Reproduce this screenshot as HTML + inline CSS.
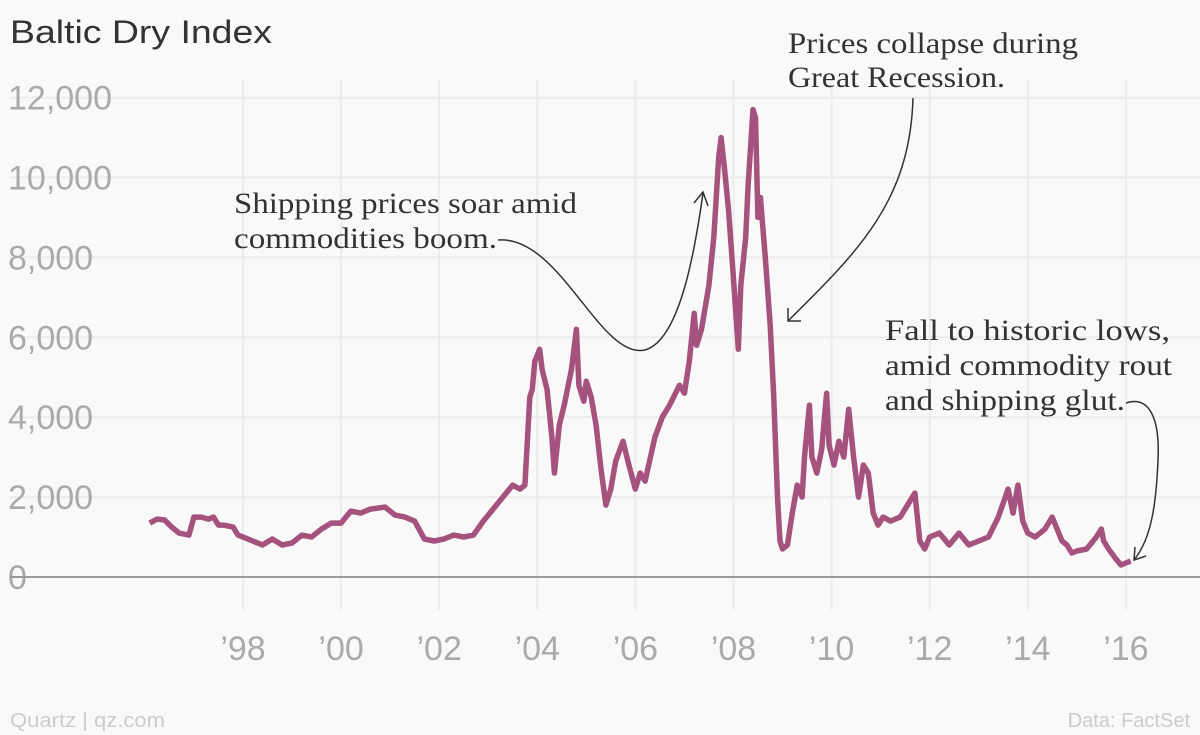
<!DOCTYPE html>
<html><head><meta charset="utf-8"><style>
html,body{margin:0;padding:0;background:#f9f9f9;}
svg{display:block;font-family:"Liberation Sans",sans-serif;}
.ann{font-family:"Liberation Serif",serif;font-size:30px;fill:#333;}
</style></head><body>
<svg id="chart" width="1200" height="735">
<rect width="1200" height="735" fill="#f9f9f9"/>
<text x="10" y="43" font-size="32" fill="#333" textLength="262" lengthAdjust="spacingAndGlyphs">Baltic Dry Index</text>
<g id="grid"></g><g id="yticks"></g><g id="xticks"></g>
<line x1="10" x2="1200" y1="577" y2="577" stroke="#999" stroke-width="2"/>
<path id="line" fill="none" stroke="#a5527f" stroke-width="5.5" stroke-linejoin="round"/>
<g>
<text class="ann" x="234" y="213" textLength="343" lengthAdjust="spacingAndGlyphs">Shipping prices soar amid</text>
<text class="ann" x="234" y="248" textLength="263" lengthAdjust="spacingAndGlyphs">commodities boom.</text>
<path d="M498,240 C560,235 600,360 645,350 C680,340 695,250 703,193" fill="none" stroke="#333" stroke-width="1.5"/>
<path d="M694,203 L703,192 L708,206" fill="none" stroke="#333" stroke-width="1.5"/>
</g>
<g>
<text class="ann" x="788" y="53" textLength="290" lengthAdjust="spacingAndGlyphs">Prices collapse during</text>
<text class="ann" x="788" y="87" textLength="217" lengthAdjust="spacingAndGlyphs">Great Recession.</text>
<path d="M913,98 C910,200 860,250 788,321" fill="none" stroke="#333" stroke-width="1.5"/>
<path d="M788,308 L788,321 L801,321" fill="none" stroke="#333" stroke-width="1.5"/>
</g>
<g>
<text class="ann" x="885" y="340" textLength="285" lengthAdjust="spacingAndGlyphs">Fall to historic lows,</text>
<text class="ann" x="885" y="375" textLength="287" lengthAdjust="spacingAndGlyphs">amid commodity rout</text>
<text class="ann" x="885" y="410" textLength="240" lengthAdjust="spacingAndGlyphs">and shipping glut.</text>
<path d="M1126,403 C1150,395 1160,420 1158,460 C1156,510 1150,540 1134,560" fill="none" stroke="#333" stroke-width="1.5"/>
<path d="M1135,547 L1134,560 L1146,556" fill="none" stroke="#333" stroke-width="1.5"/>
</g>
<text x="10" y="727" font-size="20" fill="#ccc" textLength="155" lengthAdjust="spacingAndGlyphs">Quartz | qz.com</text>
<text x="1190" y="727" font-size="20" fill="#ccc" text-anchor="end">Data: FactSet</text>
</svg>
<script>
const yTicks=[0,2000,4000,6000,8000,10000,12000];
const yTickLabels=["0","2,000","4,000","6,000","8,000","10,000","12,000"];
const xTicks=[1998,2000,2002,2004,2006,2008,2010,2012,2014,2016];
const xTickLabels=["’98","’00","’02","’04","’06","’08","’10","’12","’14","’16"];
const dates=[1996.2,1996.35,1996.5,1996.65,1996.8,1997.0,1997.1,1997.25,1997.4,1997.5,1997.6,1997.7,1997.9,1998.0,1998.1,1998.3,1998.5,1998.7,1998.9,1999.1,1999.3,1999.5,1999.7,1999.9,2000.1,2000.3,2000.5,2000.7,2001.0,2001.2,2001.4,2001.6,2001.8,2002.0,2002.2,2002.4,2002.6,2002.8,2003.0,2003.2,2003.4,2003.6,2003.75,2003.85,2003.95,2004.0,2004.05,2004.15,2004.2,2004.3,2004.4,2004.45,2004.55,2004.65,2004.8,2004.9,2004.95,2005.05,2005.1,2005.2,2005.3,2005.4,2005.5,2005.6,2005.7,2005.85,2005.95,2006.1,2006.2,2006.3,2006.5,2006.65,2006.8,2007.0,2007.1,2007.2,2007.3,2007.35,2007.45,2007.6,2007.7,2007.8,2007.85,2007.92,2008.0,2008.1,2008.2,2008.25,2008.35,2008.4,2008.5,2008.55,2008.6,2008.65,2008.75,2008.85,2008.92,2009.0,2009.05,2009.1,2009.2,2009.3,2009.4,2009.5,2009.55,2009.65,2009.7,2009.8,2009.9,2010.0,2010.05,2010.15,2010.25,2010.35,2010.45,2010.55,2010.65,2010.75,2010.85,2010.95,2011.05,2011.15,2011.3,2011.5,2011.7,2011.8,2011.9,2012.0,2012.1,2012.3,2012.5,2012.7,2012.9,2013.1,2013.3,2013.5,2013.7,2013.8,2013.9,2014.0,2014.1,2014.25,2014.45,2014.6,2014.8,2014.9,2015.0,2015.1,2015.3,2015.5,2015.6,2015.65,2015.75,2015.9,2016.0,2016.1,2016.2,2016.25];
const values=[1350,1450,1430,1250,1100,1050,1500,1500,1450,1500,1300,1300,1250,1050,1000,900,800,950,800,850,1050,1000,1200,1350,1350,1650,1600,1700,1750,1550,1500,1400,950,900,950,1050,1000,1050,1400,1700,2000,2300,2200,2300,4500,4700,5400,5700,5200,4700,3500,2600,3800,4300,5200,6200,4800,4400,4900,4500,3800,2700,1800,2200,2900,3400,2900,2200,2600,2400,3500,4000,4300,4800,4600,5400,6600,5800,6200,7300,8500,10500,11000,10200,9200,7500,5700,7300,8500,9800,11700,11500,9000,9500,8000,6300,4600,2000,900,700,800,1600,2300,2000,3000,4300,3000,2600,3200,4600,3300,2800,3400,3000,4200,3000,2000,2800,2600,1600,1300,1500,1400,1500,1900,2100,900,700,1000,1100,800,1100,800,900,1000,1500,2200,1600,2300,1400,1100,1000,1200,1500,900,800,600,650,700,1000,1200,900,700,450,300,350,400];
const xS=t=>243+(t-1998)*49.05;
const xD=t=>xS(t)-5;
const yS=v=>577-v*0.03995;
const NS="http://www.w3.org/2000/svg";
const grid=document.getElementById('grid'),yt=document.getElementById('yticks'),xt=document.getElementById('xticks');
yTicks.forEach((v,i)=>{
 const l=document.createElementNS(NS,'line');
 l.setAttribute('x1',10);l.setAttribute('x2',1200);l.setAttribute('y1',yS(v));l.setAttribute('y2',yS(v));
 l.setAttribute('stroke','#ececec');l.setAttribute('stroke-width',2);
 
 
 grid.appendChild(l);
 const t=document.createElementNS(NS,'text');
 t.setAttribute('x',8);t.setAttribute('y',yS(v)+12);t.setAttribute('font-size',34);t.setAttribute('fill','#aaa');
 t.textContent=yTickLabels[i];
 
 
 yt.appendChild(t);
});
xTicks.forEach((v,i)=>{
 const l=document.createElementNS(NS,'line');
 l.setAttribute('x1',xS(v));l.setAttribute('x2',xS(v));l.setAttribute('y1',80);l.setAttribute('y2',610);
 l.setAttribute('stroke','#ececec');l.setAttribute('stroke-width',2);
 
 
 grid.appendChild(l);
 const t=document.createElementNS(NS,'text');
 t.setAttribute('x',xS(v));t.setAttribute('y',660);t.setAttribute('font-size',34);t.setAttribute('fill','#aaa');t.setAttribute('text-anchor','middle');
 t.textContent=xTickLabels[i];
 
 
 xt.appendChild(t);
});
document.getElementById('line').setAttribute('d',dates.map((d,i)=>(i?'L':'M')+xD(d).toFixed(1)+','+yS(values[i]).toFixed(1)).join(''));
</script>
</body></html>
